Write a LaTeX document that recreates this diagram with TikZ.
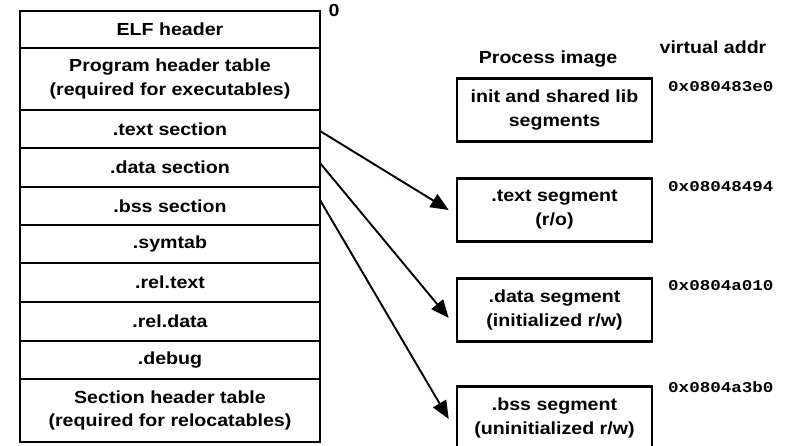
\documentclass[tikz,border=0pt]{standalone}
\usepackage{fontspec}
\setmainfont{Liberation Sans}[FakeStretch=1.12]
\newfontfamily\addrfont{Liberation Mono}[FakeStretch=1.17]
\usetikzlibrary{arrows.meta}
\tikzset{
  sec/.style={draw, line width=2.2pt, minimum width=300pt, inner sep=0pt, outer sep=0pt,
    align=center, font=\fontsize{17.5}{23.5}\selectfont\bfseries},
  seg/.style={draw, line width=2.6pt, minimum width=195pt, minimum height=63pt, inner sep=0pt,
    align=center, font=\fontsize{17.5}{24}\selectfont\bfseries},
  lbl/.style={inner sep=0pt, font=\fontsize{17.5}{20}\selectfont\bfseries},
  addr/.style={inner sep=0pt, anchor=base west, font=\fontsize{15}{18}\selectfont\addrfont\bfseries},
  arr/.style={line width=1.9pt, -{Triangle[length=18pt,width=15pt]}}
}
\begin{document}
\begin{tikzpicture}[x=1pt,y=-1pt]
\useasboundingbox (0,0) rectangle (785,446);
% ELF file sections
\node[sec, minimum height=37pt]  (elf)    at (170,29.5)  {ELF header};
\node[sec, minimum height=62pt]  (pht)    at (170,79)    {Program header table\\(required for executables)};
\node[sec, minimum height=38pt]  (tsec)   at (170,129)   {.text section};
\node[sec, minimum height=39pt]  (dsec)   at (170,167.5) {.data section};
\node[sec, minimum height=38pt]  (bsec)   at (170,206)   {.bss section};
\node[sec, minimum height=38pt]  (symtab) at (170,244)   {.symtab};
\node[sec, minimum height=39pt]  (reltext) at (170,282.5) {.rel.text};
\node[sec, minimum height=39pt]  (reldata) at (170,321.5) {.rel.data};
\node[sec, minimum height=38pt]  (debug)  at (170,360)   {.debug};
\node[sec, minimum height=63pt]  (sht)    at (170,410.5) {Section header table\\(required for relocatables)};
\node[lbl, anchor=base] (zero) at (334,17) {0};
% process image
\node[lbl, anchor=base] (pimg) at (548,64) {Process image};
\node[lbl, anchor=base] (vaddr) at (713,54) {virtual addr};
\node[seg] (iseg) at (554.5,110) {init and shared lib\\segments};
\node[seg] (tseg) at (554.5,210) {.text segment\\(r/o)};
\node[seg] (dseg) at (554.5,310) {.data segment\\(initialized r/w)};
\node[seg] (bseg) at (554.5,418) {.bss segment\\(uninitialized r/w)};
\node[addr] (a1) at (668,92)  {0x080483e0};
\node[addr] (a2) at (668,192) {0x08048494};
\node[addr] (a3) at (668,291) {0x0804a010};
\node[addr] (a4) at (668,392) {0x0804a3b0};
% connectors
\draw[arr] ([yshift=-2pt]tsec.east) -- ([xshift=-7pt]tseg.west);
\draw[arr] ([yshift=4.5pt]dsec.east) -- ([xshift=-7pt,yshift=-8pt]dseg.west);
\draw[arr] ([yshift=6pt]bsec.east) -- ([xshift=-7pt,yshift=-1pt]bseg.west);
\end{tikzpicture}
\end{document}
